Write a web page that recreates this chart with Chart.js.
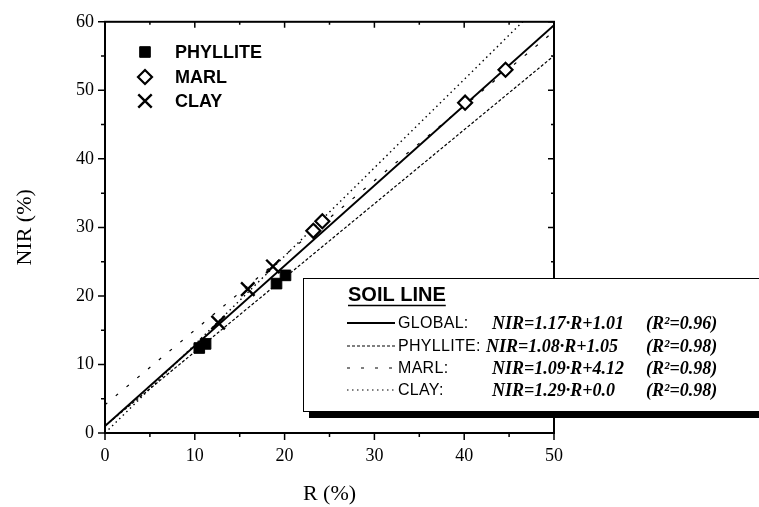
<!DOCTYPE html>
<html>
<head>
<meta charset="utf-8">
<script src="https://cdn.jsdelivr.net/npm/chart.js@4.4.0/dist/chart.umd.min.js"></script>
<style>
    html, body { margin: 0; padding: 0; background: #fff; }
    #wrap { position: relative; width: 759px; height: 507px; }
</style>
</head>
<body>
<div id="wrap"><canvas id="soilChart" width="759" height="507"></canvas></div>
<script>
// --- values ---
const phylliteR = [10.5, 11.2, 19.1, 20.1];
const phylliteNIR = [12.4, 13.0, 21.8, 23.0];
const marlR = [23.2, 24.2, 40.1, 44.6];
const marlNIR = [29.5, 30.9, 48.2, 53.0];
const clayR = [12.6, 15.9, 18.7];
const clayNIR = [16.1, 21.0, 24.3];

// soil lines: NIR = slope * R + offset
const lineNames = ['GLOBAL:', 'PHYLLITE:', 'MARL:', 'CLAY:'];
const lineSlopes = [1.17, 1.08, 1.09, 1.29];
const lineOffsets = [1.01, 1.05, 4.12, 0.0];
const lineEquations = ['NIR=1.17·R+1.01', 'NIR=1.08·R+1.05', 'NIR=1.09·R+4.12', 'NIR=1.29·R+0.0'];
const lineR2 = ['(R²=0.96)', '(R²=0.98)', '(R²=0.98)', '(R²=0.98)'];
const rRange = [0, 50];

const xTickValues = [0, 10, 20, 30, 40, 50];
const yTickValues = [0, 10, 20, 30, 40, 50, 60];

const pts = (xs, ys) => xs.map((x, i) => ({ x: x, y: ys[i] }));
const fitLine = i => rRange.map(r => ({ x: r, y: lineSlopes[i] * r + lineOffsets[i] }));

const lineDash = [[], [3, 2], [3, 11], [1.5, 3.5]];
const lineWidth = [2, 1.2, 1.2, 1.4];

const markerStyles = [
    { pointStyle: 'rect', radius: 7.5, fill: '#000', border: 1 },
    { pointStyle: 'rectRot', radius: 7, fill: '#fff', border: 2.2 },
    { pointStyle: 'crossRot', radius: 9.5, fill: '#000', border: 2.4 }
];
const markerNames = ['PHYLLITE', 'MARL', 'CLAY'];

function drawMarker(ctx, m, x, y) {
    ctx.fillStyle = m.fill;
    ctx.strokeStyle = '#000';
    ctx.lineWidth = m.border;
    Chart.helpers.drawPoint(ctx, { pointStyle: m.pointStyle, radius: m.radius, borderWidth: m.border, rotation: 0 }, x, y);
}

// frame, inner ticks and both legends
const decorations = {
    id: 'decorations',
    afterDraw(chart) {
        const ctx = chart.ctx;
        const a = chart.chartArea;
        const sx = chart.scales.x, sy = chart.scales.y;
        ctx.save();

        // ticks on all four sides
        ctx.strokeStyle = '#000';
        ctx.lineWidth = 1.5;
        ctx.beginPath();
        for (let v = 0; v <= 50; v += 5) {
            const px = sx.getPixelForValue(v);
            const major = v % 10 === 0;
            ctx.moveTo(px, a.bottom); ctx.lineTo(px, a.bottom + (major ? 7 : 4));
            ctx.moveTo(px, a.top); ctx.lineTo(px, a.top + (major ? 6 : 3));
        }
        for (let v = 0; v <= 60; v += 5) {
            const py = sy.getPixelForValue(v);
            const major = v % 10 === 0;
            ctx.moveTo(a.left, py); ctx.lineTo(a.left - (major ? 7 : 4), py);
            ctx.moveTo(a.right, py); ctx.lineTo(a.right - (major ? 6 : 3), py);
        }
        ctx.stroke();

        // frame
        ctx.lineWidth = 2;
        ctx.strokeRect(a.left, a.top, a.right - a.left, a.bottom - a.top);

        // point legend, top left
        ctx.font = 'bold 18px "Liberation Sans", Arial, sans-serif';
        ctx.textBaseline = 'middle';
        ctx.textAlign = 'left';
        const legY = [52, 77, 101];
        markerNames.forEach((name, i) => {
            drawMarker(ctx, markerStyles[i], 145, legY[i]);
            ctx.fillStyle = '#000';
            ctx.fillText(name, 175, legY[i] + 1);
        });

        // soil line box
        ctx.fillStyle = '#000';
        ctx.fillRect(309, 412, 470, 6);
        ctx.fillStyle = '#fff';
        ctx.fillRect(303, 278, 470, 134);
        ctx.strokeStyle = '#000';
        ctx.lineWidth = 1;
        ctx.strokeRect(303.5, 278.5, 470, 133);

        ctx.fillStyle = '#000';
        ctx.font = 'bold 20px "Liberation Sans", Arial, sans-serif';
        ctx.fillText('SOIL LINE', 348, 295);
        const w = ctx.measureText('SOIL LINE').width;
        ctx.lineWidth = 1.6;
        ctx.beginPath();
        ctx.moveTo(348, 305.5); ctx.lineTo(348 + w, 305.5);
        ctx.stroke();

        const rowY = [323, 346, 368, 390];
        const eqX = [492, 486, 492, 492];
        lineNames.forEach((name, i) => {
            const y = rowY[i];
            ctx.strokeStyle = '#000';
            ctx.lineWidth = i === 0 ? 1.8 : 1.2;
            ctx.setLineDash(lineDash[i]);
            ctx.beginPath();
            ctx.moveTo(347, y); ctx.lineTo(395, y);
            ctx.stroke();
            ctx.setLineDash([]);
            ctx.fillStyle = '#000';
            ctx.font = '16px "Liberation Sans", Arial, sans-serif';
            ctx.letterSpacing = '0.3px';
            ctx.fillText(name, 398, y + 1);
            ctx.letterSpacing = '0px';
            ctx.font = 'italic bold 18px "Liberation Serif", "Times New Roman", serif';
            ctx.fillText(lineEquations[i], eqX[i], y + 1);
            ctx.fillText(lineR2[i], 646, y + 1);
        });

        ctx.restore();
    }
};

const datasets = [];
lineNames.forEach((name, i) => {
    datasets.push({
        label: name,
        data: fitLine(i),
        showLine: true,
        borderColor: '#000',
        borderWidth: lineWidth[i],
        borderDash: lineDash[i],
        pointRadius: 0,
        fill: false,
        order: 2
    });
});
[[phylliteR, phylliteNIR], [marlR, marlNIR], [clayR, clayNIR]].forEach((d, i) => {
    const m = markerStyles[i];
    datasets.push({
        label: markerNames[i],
        data: pts(d[0], d[1]),
        pointStyle: m.pointStyle,
        pointRadius: m.radius,
        pointBackgroundColor: m.fill,
        pointBorderColor: '#000',
        pointBorderWidth: m.border,
        showLine: false,
        order: 1
    });
});

new Chart(document.getElementById('soilChart').getContext('2d'), {
    type: 'scatter',
    data: { datasets: datasets },
    options: {
        responsive: false,
        animation: false,
        layout: { padding: { left: 8, right: 205, top: 20, bottom: 0 } },
        plugins: {
            legend: { display: false },
            tooltip: { enabled: false }
        },
        scales: {
            x: {
                type: 'linear',
                min: 0,
                max: 50,
                afterFit: s => { s.height = 74; },
                afterBuildTicks: s => { s.ticks = xTickValues.map(v => ({ value: v })); },
                grid: { display: false, drawTicks: false },
                border: { display: false },
                ticks: {
                    color: '#000',
                    padding: 12,
                    font: { family: '"Liberation Serif", "Times New Roman", serif', size: 18 }
                },
                title: {
                    display: true,
                    text: 'R (%)',
                    color: '#000',
                    padding: { top: 0, bottom: 0 },
                    font: { family: '"Liberation Serif", "Times New Roman", serif', size: 22 }
                }
            },
            y: {
                type: 'linear',
                min: 0,
                max: 60,
                afterFit: s => { s.width = 97; },
                afterBuildTicks: s => { s.ticks = yTickValues.map(v => ({ value: v })); },
                grid: { display: false, drawTicks: false },
                border: { display: false },
                ticks: {
                    color: '#000',
                    padding: 11,
                    font: { family: '"Liberation Serif", "Times New Roman", serif', size: 18 }
                },
                title: {
                    display: true,
                    text: 'NIR (%)',
                    color: '#000',
                    padding: { top: 4, bottom: 0 },
                    font: { family: '"Liberation Serif", "Times New Roman", serif', size: 22 }
                }
            }
        }
    },
    plugins: [decorations]
});
</script>
</body>
</html>
